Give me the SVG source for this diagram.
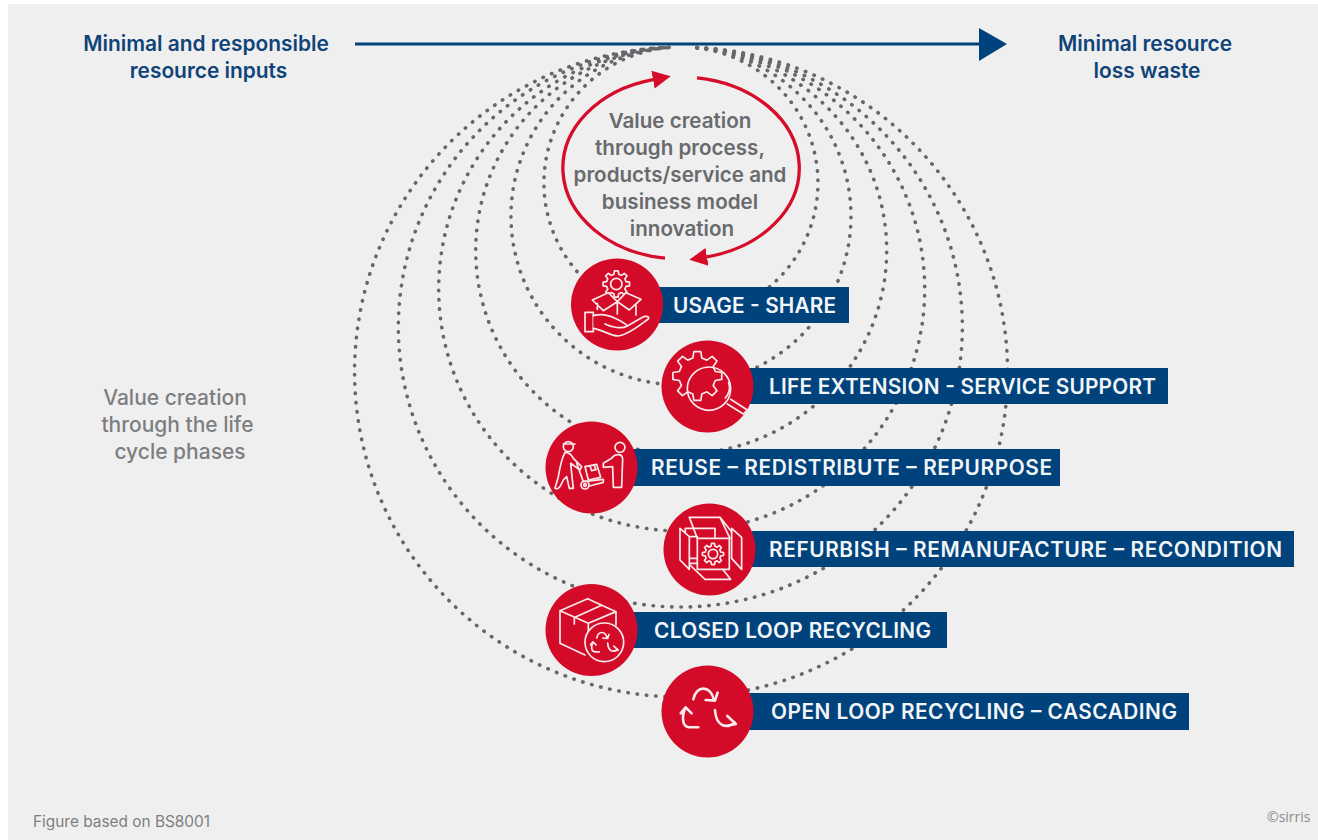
<svg xmlns="http://www.w3.org/2000/svg" width="1318" height="840" viewBox="0 0 1318 840">
<style>
text{font-family:Inter,"Liberation Sans",sans-serif}
.dot{fill:none;stroke:#66676a;stroke-width:3.6;stroke-linecap:round;stroke-dasharray:.4 8.9}
.red{fill:none;stroke:#d50c2a;stroke-width:3.3}
.c{fill:#d30b28}
.b{fill:#00427c}
.l{fill:#f3f6f8;font-size:20.800px;font-weight:600}
.h{fill:#0f4478;font-size:20.900px;font-weight:600;text-anchor:middle}
.g1{fill:#696a6d;font-size:20.600px;font-weight:600;text-anchor:middle}
.g2{fill:#7d7e80;font-size:21px;font-weight:500;text-anchor:middle}
.i *{fill:none;stroke:#fbe9eb;stroke-width:1.7;vector-effect:non-scaling-stroke;stroke-linejoin:round;stroke-linecap:round}
.i .f{fill:#d30b28}
.rc{fill:none;stroke:#fbe9eb;vector-effect:non-scaling-stroke;stroke-linejoin:round;stroke-linecap:round}
</style>
<defs>
<marker id="rh" markerUnits="userSpaceOnUse" markerWidth="20" markerHeight="20" refX="0" refY="10" orient="auto"><polygon points="0,1 18,10 0,19" fill="#d50c2a"/></marker>
<path id="gear" d="M39.6,-5.6 39.6,5.6 29.1,7.3 25.7,15.5 31.9,24.1 24.1,31.9 15.5,25.7 7.3,29.1 5.6,39.6 -5.6,39.6 -7.3,29.1 -15.5,25.7 -24.1,31.9 -31.9,24.1 -25.7,15.5 -29.1,7.3 -39.6,5.6 -39.6,-5.6 -29.1,-7.3 -25.7,-15.5 -31.9,-24.1 -24.1,-31.9 -15.5,-25.7 -7.3,-29.1 -5.6,-39.6 5.6,-39.6 7.3,-29.1 15.5,-25.7 24.1,-31.9 31.9,-24.1 25.7,-15.5 29.1,-7.3 z" style="fill:none;stroke:#fbe9eb;stroke-width:1.7;vector-effect:non-scaling-stroke;stroke-linejoin:round"/>
<path id="rec" class="rc" d="M460,598 C468,555 512,555 522,600 M497,600 L525,602 L533,578 M422,640 L437,622 L455,640 M437,622 C425,645 425,682 448,682 H475 M525,630 C528,675 555,690 585,668 M562,648 L588,672 L556,678"/>
</defs>
<rect x="8" y="4" width="1310" height="836" fill="#efefef"/>
<g id="connectors">
<line x1="355" y1="44" x2="980" y2="44" stroke="#00427c" stroke-width="3"/>
<polygon points="979,28 1007,44 979,61" fill="#00427c"/>
<path class="dot" d="M697,47.9 A137,136 0 1 1 670,47.4"/>
<path class="dot" d="M697,47.8 A170,169 0 1 1 670,47.4"/>
<path class="dot" d="M697,47.6 A205.5,203.5 0 1 1 670,47.3"/>
<path class="dot" d="M697,47.5 A243,242 0 1 1 670,47.3"/>
<path class="dot" d="M697,47.5 A282,280 0 1 1 670,47.2"/>
<path class="dot" d="M697,47.4 A326.5,325 0 1 1 670,47.2"/>
<path class="red" d="M665,258.2 A118,91 0 0 1 653,79.6" marker-end="url(#rh)"/>
<path class="red" d="M697,77.8 A118,91 0 0 1 707,256.8" marker-end="url(#rh)"/>
</g>
<g id="labels">
<text class="h" x="206" y="51">Minimal and responsible</text>
<text class="h" x="208.500" y="78">resource inputs</text>
<text class="h" x="1145" y="51">Minimal resource</text>
<text class="h" x="1147" y="78">loss waste</text>
<text class="g1" x="680" y="128">Value creation</text>
<text class="g1" x="680" y="155">through process,</text>
<text class="g1" x="680" y="182">products/service and</text>
<text class="g1" x="680" y="209">business model</text>
<text class="g1" x="682" y="236">innovation</text>
<text class="g2" x="175" y="405">Value creation</text>
<text class="g2" x="177.500" y="432">through the life</text>
<text class="g2" x="180" y="459">cycle phases</text>
<text x="33" y="827" font-size="15.400" fill="#7f7f7f">Figure based on BS8001</text>
<text x="1267" y="822" font-size="14" fill="#8a8a8a" style="font-family:'Open Sans',sans-serif">©sirris</text>
</g>
<g id="usage">
<rect class="b" x="655" y="287" width="194" height="36"/>
<circle class="c" cx="617" cy="304.500" r="46"/>
<g class="i" transform="translate(540 250) scale(.3333)">
<use href="#gear" transform="translate(229 102)"/>
<circle cx="229" cy="102" r="17"/>
<path class="f" d="M157,150 L205,128 L232,155 L258,128 L303,148 L268,180 L232,155 L190,182 Z M232,155 V192 M288,164 V195 M172,160 V178"/>
<path d="M135,187 H160 V245 H135 Z"/>
<path class="f" d="M160,197 C185,190 205,195 225,205 C240,212 255,220 262,228 L305,203 C315,197 330,198 325,207 C300,225 265,255 235,258 C210,258 190,240 160,235"/>
<path d="M262,228 C245,238 215,232 195,222"/>
</g>
<text class="l" x="673" y="313" textLength="163">USAGE - SHARE</text>
</g>
<g id="life-extension">
<rect class="b" x="745" y="368" width="423" height="36"/>
<circle class="c" cx="707.500" cy="386.500" r="46"/>
<g class="i" transform="translate(540 250) scale(.3333)">
<use href="#gear" transform="translate(472 378) scale(1.85)"/>
<circle cx="507" cy="416" r="65"/>
<path d="M572,448 L622,480 L610,492 L562,462 M566,398 C572,415 568,430 556,444"/>
</g>
<text class="l" x="769" y="394" textLength="387">LIFE EXTENSION - SERVICE SUPPORT</text>
</g>
<g id="reuse">
<rect class="b" x="630" y="449" width="430" height="37"/>
<circle class="c" cx="591.500" cy="467.500" r="46"/>
<g class="i" transform="translate(540 250) scale(.3333)">
<circle cx="85" cy="590" r="15"/>
<path d="M70,582 L105,582"/>
<path d="M75,607 C65,625 60,650 55,680 L45,715 C55,720 60,712 70,690 L80,680 L88,715 H100 L95,670 L92,640 L120,660 L125,650 L100,625 C95,615 88,607 75,607 Z"/>
<path d="M110,640 L130,695 L190,688 V697 L148,708"/>
<circle cx="135" cy="705" r="12"/><circle cx="135" cy="705" r="4"/>
<path d="M135,650 L170,643 L182,682 L145,690 Z M150,647 L155,662 L168,659 L162,645"/>
<circle cx="240" cy="592" r="15"/>
<path d="M190,640 L215,625 C225,610 245,610 248,625 L245,712 H220 L218,650 L190,652 Z"/>
</g>
<text class="l" x="651" y="475" textLength="401">REUSE – REDISTRIBUTE – REPURPOSE</text>
</g>
<g id="refurbish">
<rect class="b" x="745" y="531" width="549" height="36"/>
<circle class="c" cx="709.500" cy="549.500" r="46"/>
<g class="i" transform="translate(540 500) scale(.3333)">
<rect x="472" y="115" width="96" height="93"/>
<use href="#gear" transform="translate(519 162) scale(.8)"/>
<circle cx="519" cy="162" r="14"/>
<path d="M472,115 L448,52 H540 L570,115 M462,85 H525 V115 M540,52 L575,95"/>
<path d="M420,85 L448,110 V208 L420,180 Z M448,110 H472 M448,175 H472 M448,190 H472 M436,98 V85 H462"/>
<path d="M575,85 L605,112 V208 L575,175 Z"/>
<path d="M450,195 L495,238 H572 L548,208"/>
</g>
<text class="l" x="769" y="557" textLength="513">REFURBISH – REMANUFACTURE – RECONDITION</text>
</g>
<g id="closed-loop">
<rect class="b" x="630" y="612" width="317" height="36"/>
<circle class="c" cx="591.500" cy="630" r="46"/>
<g class="i" transform="translate(540 500) scale(.3333)">
<path d="M60,332 L143,296 L228,335 L145,370 Z M60,332 V430 L135,465 M145,370 V410 M228,335 V375 M105,352 L185,316 M103,352 V372"/>
<circle class="f" cx="193" cy="427" r="58"/>
<use href="#rec" style="stroke-width:1.7" transform="translate(193 427) scale(.5) translate(-505 -625)"/>
</g>
<text class="l" x="654" y="638" textLength="277">CLOSED LOOP RECYCLING</text>
</g>
<g id="open-loop">
<rect class="b" x="745" y="693" width="444" height="37"/>
<circle class="c" cx="707.500" cy="711.500" r="46"/>
<g transform="translate(540 500) scale(.3333)">
<use href="#rec" style="stroke-width:2.6"/>
</g>
<text class="l" x="771" y="719" textLength="406">OPEN LOOP RECYCLING – CASCADING</text>
</g>
</svg>
